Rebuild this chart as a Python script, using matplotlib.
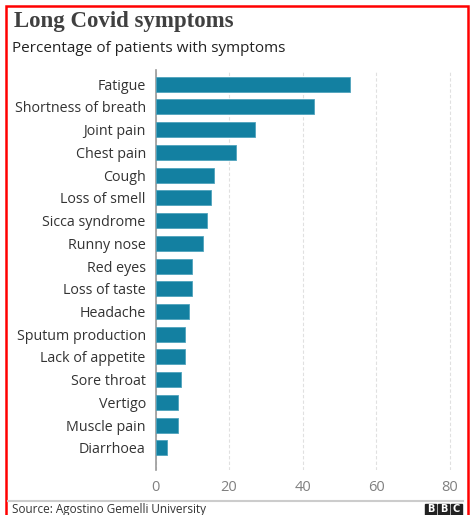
import matplotlib.pyplot as plt
from matplotlib.patches import Rectangle

symptoms = ['Fatigue', 'Shortness of breath', 'Joint pain', 'Chest pain',
            'Cough', 'Loss of smell', 'Sicca syndrome', 'Runny nose',
            'Red eyes', 'Loss of taste', 'Headache', 'Sputum production',
            'Lack of appetite', 'Sore throat', 'Vertigo', 'Muscle pain',
            'Diarrhoea']
percent = [53, 43, 27, 22, 16, 15, 14, 13, 10, 10, 9, 8, 8, 7, 6, 6, 3]
x_ticks = [0, 20, 40, 60, 80]

W, H = 472, 515
fig = plt.figure(figsize=(W / 100, H / 100), dpi=100)
sans = ['Open Sans', 'DejaVu Sans']

ax = fig.add_axes([155.5 / W, 1 - 470 / H, 298 / W, 400 / H])
ax.barh(list(range(len(symptoms))), percent, height=0.66,
        color='#1380a1', edgecolor='#4fa3bd', linewidth=0.6, zorder=3)
ax.set_ylim(len(symptoms) - 0.03, -0.62)
ax.set_xlim(0, 81)
ax.set_yticks(list(range(len(symptoms))))
ax.set_yticklabels(symptoms, fontsize=10.3, color='#333333', family=sans)
ax.set_xticks(x_ticks)
ax.set_xticklabels([str(t) for t in x_ticks], fontsize=10.5,
                   color='#808080', family=sans)
ax.tick_params(axis='both', length=0, pad=7)
ax.tick_params(axis='x', pad=7)
ax.grid(axis='x', color='#e0e0e0', linestyle=(0, (3, 2)), linewidth=0.8, zorder=0)
for side in ['top', 'right', 'bottom']:
    ax.spines[side].set_visible(False)
ax.spines['left'].set_color('#999999')
ax.spines['left'].set_linewidth(1.2)

fig.text(14 / W, 1 - 22 / H, 'Long Covid symptoms', fontsize=16.5,
         family='Liberation Serif', fontweight='bold', color='#404040',
         va='center')
fig.text(12 / W, 1 - 49 / H, 'Percentage of patients with symptoms',
         fontsize=11, family=sans, color='#222222', va='center')

# footer
fig.add_artist(plt.Line2D([8 / W, 463 / W], [1 - 501 / H, 1 - 501 / H],
                          color='#cccccc', linewidth=1.5))
fig.text(12 / W, 1 - 510 / H, 'Source: Agostino Gemelli University',
         fontsize=8.5, family=sans, color='#333333', va='center')
for i, letter in enumerate('BBC'):
    x0 = 425 + i * 13
    fig.add_artist(Rectangle((x0 / W, 1 - 515 / H), 11 / W, 11 / H,
                             transform=fig.transFigure, color='#222222'))
    fig.text((x0 + 5.5) / W, 1 - 509.5 / H, letter, fontsize=7,
             fontweight='bold', color='white', ha='center', va='center')

# red frame
fig.add_artist(Rectangle((5.5 / W, -0.02), 462 / W, 1 - 5.5 / H + 0.02,
                         transform=fig.transFigure, fill=False,
                         edgecolor='#ff0000', linewidth=1.8))

fig.savefig('out.png', dpi=100)
